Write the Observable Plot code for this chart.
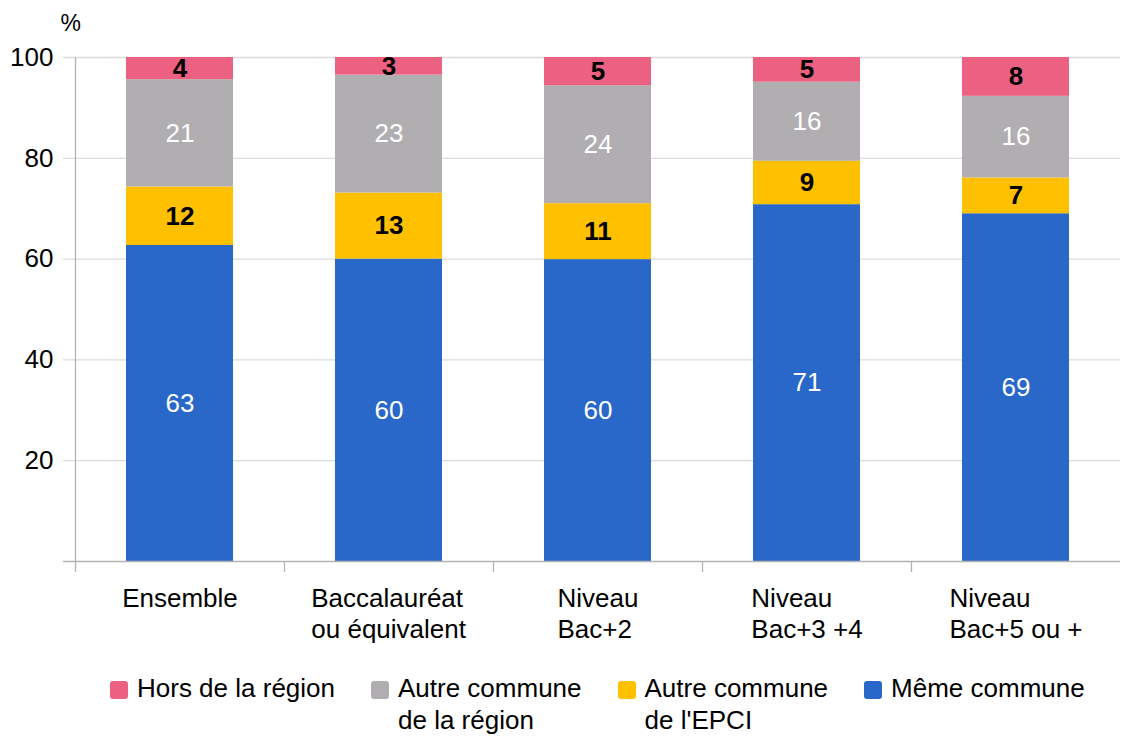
<!DOCTYPE html>
<html><head><meta charset="utf-8">
<script src="https://cdn.jsdelivr.net/npm/d3@7"></script>
<script src="https://cdn.jsdelivr.net/npm/@observablehq/plot@0.6"></script>
<style>
body{margin:0;background:#fff;font-family:"Liberation Sans",Arial,sans-serif;}
#wrap{position:relative;width:1121px;height:736px;overflow:hidden;}
#legend{position:absolute;left:110px;top:672px;display:flex;gap:36px;}
.item{display:flex;align-items:flex-start;font-size:26px;line-height:32px;color:#000;white-space:pre-line;}
.sw{width:18px;height:18px;border-radius:3px;margin-top:9px;margin-right:9px;flex:none;}
</style></head><body>
<div id="wrap"><div id="chart"></div><div id="legend"></div></div>
<script>
// Categories (x axis)
const categories = ["Ensemble", "Baccalauréat\nou équivalent", "Niveau\nBac+2", "Niveau\nBac+3 +4", "Niveau\nBac+5 ou +"];
// Series, bottom to top
const series = ["Même commune", "Autre commune de l'EPCI", "Autre commune de la région", "Hors de la région"];
const colors = ["#2968c8", "#ffc000", "#b0aeb0", "#ec6181"];
// Segment heights (%)
const memeCommune   = [62.7, 60.0, 59.9, 70.8, 69.0];
const autreEPCI     = [11.6, 13.1, 11.1, 8.6, 7.1];
const autreRegion   = [21.3, 23.4, 23.4, 15.7, 16.2];
const horsRegion    = [4.4, 3.5, 5.6, 4.9, 7.7];
// Printed labels
const memeLabels    = [63, 60, 60, 71, 69];
const epciLabels    = [12, 13, 11, 9, 7];
const regionLabels  = [21, 23, 24, 16, 16];
const horsLabels    = [4, 3, 5, 5, 8];
// Y ticks
const yTicks = [20, 40, 60, 80, 100];
// Legend (display order)
const legendOrder = ["Hors de la région", "Autre commune de la région", "Autre commune de l'EPCI", "Même commune"];
const legendText = ["Hors de la région", "Autre commune\nde la région", "Autre commune\nde l'EPCI", "Même commune"];

const values = [memeCommune, autreEPCI, autreRegion, horsRegion];
const labels = [memeLabels, epciLabels, regionLabels, horsLabels];
const whiteSeries = ["Même commune", "Autre commune de la région"];

const rows = [];
categories.forEach((c, i) => {
  series.forEach((s, j) => rows.push({cat: c, series: s, value: values[j][i], label: String(labels[j][i])}));
});

const axisColor = "#b3b3b3";
const gridColor = "#dcdcdc";

const plot = Plot.plot({
  width: 1121, height: 660,
  marginLeft: 75, marginRight: 1, marginTop: 57, marginBottom: 99,
  style: {fontFamily: "'Liberation Sans', Arial, sans-serif", fontSize: "26px", color: "#000", background: "#fff"},
  x: {domain: categories, paddingInner: 0.49, paddingOuter: 0.245, label: null},
  y: {domain: [0, 100], label: null},
  color: {domain: series, range: colors},
  marks: [
    Plot.ruleY(yTicks, {stroke: gridColor, strokeWidth: 1.3, insetLeft: -12}),
    Plot.barY(rows, {x: "cat", y: "value", fill: "series"}),
    Plot.ruleY([0], {stroke: axisColor, strokeWidth: 1.3, insetLeft: -12}),
    Plot.ruleX([categories[0]], {x: d => d, y1: 0, y2: 100, dx: -104.5, stroke: axisColor, strokeWidth: 1.3}),
    Plot.axisX({tickSize: 11, tickFormat: () => "", dx: -104.5, stroke: axisColor, strokeWidth: 1.3, label: null}),
    Plot.axisX({tickSize: 0, tickPadding: 24, fontSize: 26, lineHeight: 1.19, label: null, fill: "#000"}),
    Plot.axisY({ticks: yTicks, tickSize: 0, tickPadding: 22, fontSize: 26, label: null, fill: "#000"}),
    Plot.text(rows, Plot.stackY({x: "cat", y: "value", z: "series",
      text: d => whiteSeries.includes(d.series) ? d.label : "", fill: "white", fontSize: 26})),
    Plot.text(rows, Plot.stackY({x: "cat", y: "value", z: "series",
      text: d => whiteSeries.includes(d.series) ? "" : d.label, fill: "#000", fontSize: 26, fontWeight: "bold"})),
    Plot.text(["%"], {text: d => d, frameAnchor: "top-left", dx: -15, dy: -43, textAnchor: "start", fontSize: 23, fill: "#000"})
  ]
});
document.getElementById("chart").appendChild(plot);

// left-align multi-line x labels, keeping each block centred on its band
plot.querySelectorAll('g[aria-label="x-axis tick label"] text').forEach(t => {
  const b = t.getBBox();
  if (b.width === 0) return;
  t.setAttribute("text-anchor", "start");
  t.setAttribute("transform", (t.getAttribute("transform") || "") + ` translate(${-b.width / 2},0)`);
});

// legend
const lg = document.getElementById("legend");
legendOrder.forEach((s, i) => {
  const it = document.createElement("div");
  it.className = "item";
  const sw = document.createElement("div");
  sw.className = "sw";
  sw.style.background = colors[series.indexOf(s)];
  const tx = document.createElement("div");
  tx.textContent = legendText[i];
  it.appendChild(sw); it.appendChild(tx);
  lg.appendChild(it);
});
</script>
</body></html>
